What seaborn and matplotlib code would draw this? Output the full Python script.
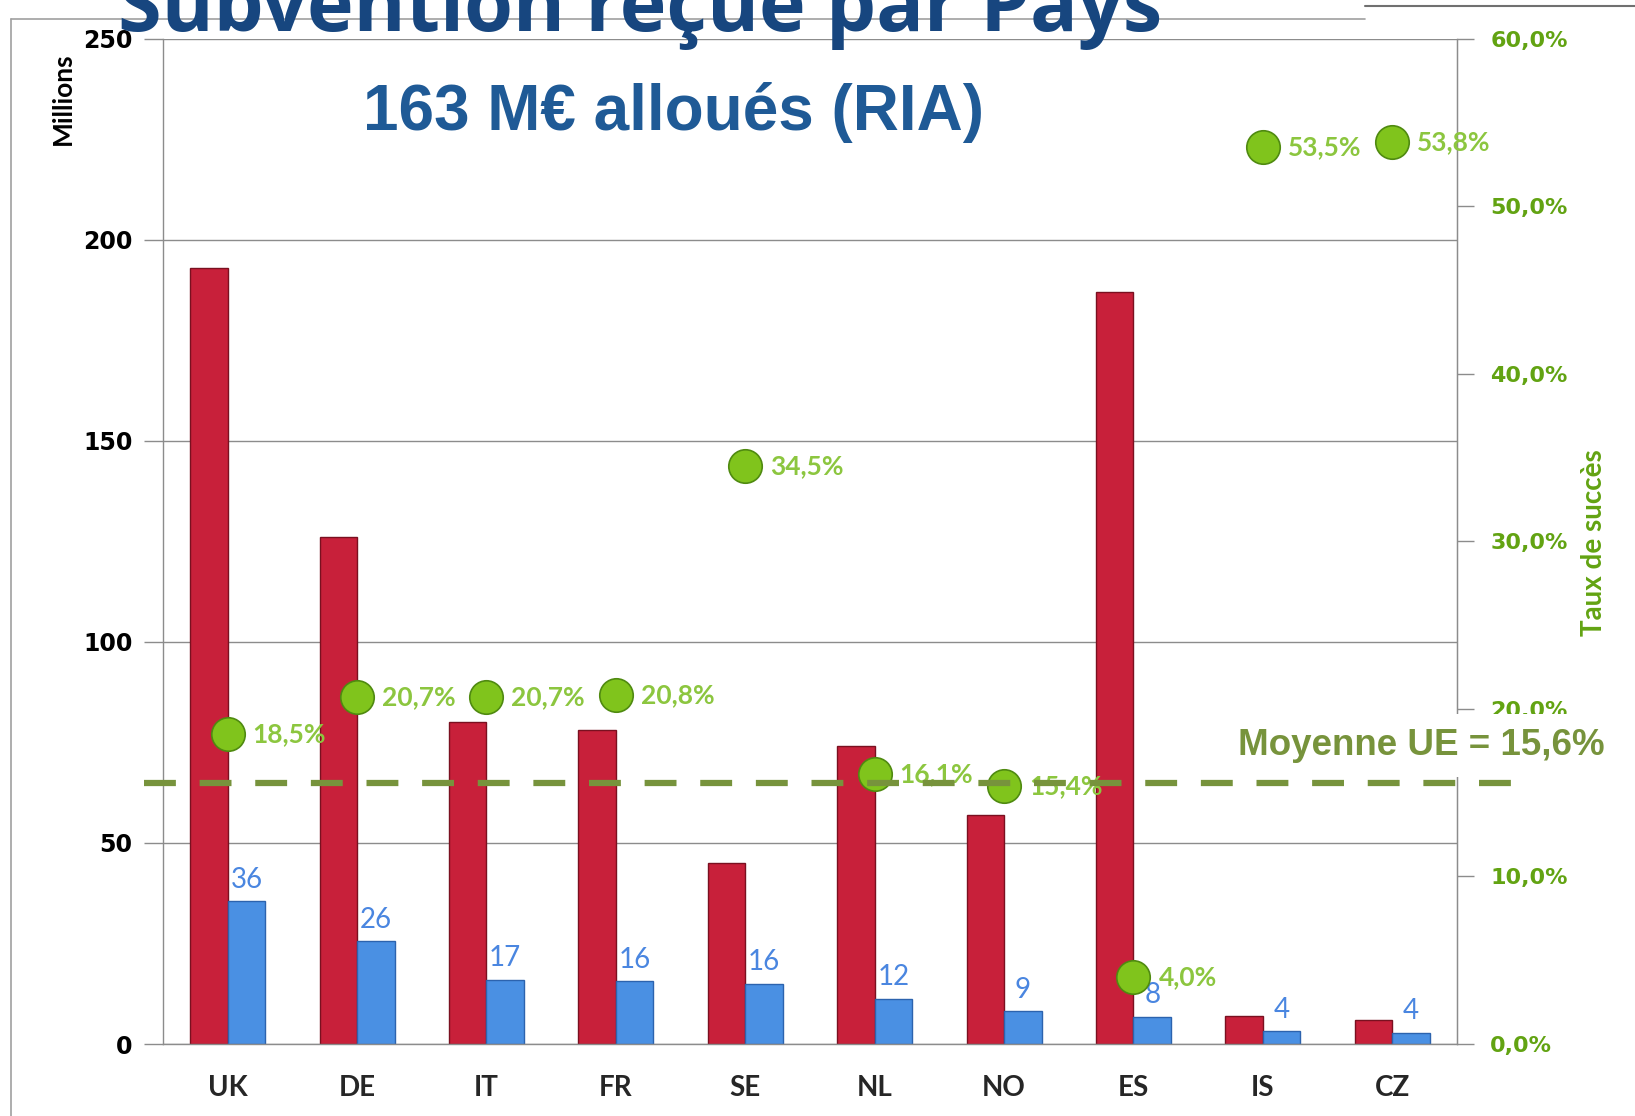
import numpy as np
import pandas as pd
import matplotlib.pyplot as plt
import matplotlib.ticker as mticker
import matplotlib.transforms as mtransforms
from matplotlib.lines import Line2D
import seaborn as sns

# Data
countries = ['UK', 'DE', 'IT', 'FR', 'SE', 'NL', 'NO', 'ES', 'IS', 'CZ']
demande = [193, 126, 80, 78, 45, 74, 57, 187, 7, 6]          # red bars (M€)
subvention = [35.5, 25.5, 16, 15.6, 15, 11.3, 8.2, 6.8, 3.2, 2.8]  # blue bars (M€)
subvention_labels = ['36', '26', '17', '16', '16', '12', '9', '8', '4', '4']
taux = [18.5, 20.7, 20.7, 20.8, 34.5, 16.1, 15.4, 4.0, 53.5, 53.8]  # success rate (%)
taux_labels = ['18,5%', '20,7%', '20,7%', '20,8%', '34,5%', '16,1%', '15,4%', '4,0%', '53,5%', '53,8%']
moyenne_ue = 15.6

RED = '#C8203A'
BLUE = '#4A90E3'
GREEN_DOT = '#80C41C'
GREEN_TXT = '#8CC63F'
GREEN_AX = '#62A312'
OLIVE = '#77933C'
GRID = '#8C8C8C'

sns.set_style('white')
plt.rcParams['font.family'] = ['DejaVu Sans']

df = pd.DataFrame({
    'Pays': countries * 2,
    'Montant': demande + subvention,
    'Serie': ['Demande'] * len(countries) + ['Subvention'] * len(countries),
})

fig = plt.figure(figsize=(16.35, 11.16), dpi=100)
ax = fig.add_axes([0.0997, 0.0645, 0.7914, 0.901])

sns.barplot(data=df, x='Pays', y='Montant', hue='Serie', palette=[RED, BLUE],
            width=0.58, dodge=True, legend=False, ax=ax, saturation=1,
            edgecolor='#7A1020', linewidth=1.0)
for patch in ax.containers[1]:
    patch.set_edgecolor('#2C63AE')

ax.bar_label(ax.containers[1], labels=subvention_labels, padding=6,
             color='#4A86E0', fontsize=20, family='Lato')

ax.set_xlim(-0.5, 9.5)
ax.set_ylim(0, 250)
ax.set_yticks([0, 50, 100, 150, 200, 250])
ax.yaxis.grid(True, color=GRID, linewidth=1)
ax.set_axisbelow(True)
ax.set_xlabel('')
ax.set_ylabel('')
ax.tick_params(axis='y', length=14, width=1, color=GRID, pad=8,
               labelsize=17, labelcolor='black')
for t in ax.get_yticklabels():
    t.set_fontweight('bold')
ax.set_xticks(range(len(countries)))
ax.set_xticklabels(countries, family='Lato', fontweight='bold', fontsize=20)
ax.tick_params(axis='x', length=0, pad=22)
ax.set_xticks(np.arange(-0.5, 10, 1), minor=True)
ax.tick_params(axis='x', which='minor', length=10, width=1, color=GRID)
for side in ['left', 'bottom', 'right']:
    ax.spines[side].set_color(GRID)
    ax.spines[side].set_linewidth(1)
ax.spines['top'].set_visible(False)

# Success rate on secondary axis
ax2 = ax.twinx()
sns.scatterplot(x=np.arange(len(countries)), y=taux, ax=ax2, s=580,
                color=GREEN_DOT, edgecolor='#4F8A10', linewidth=1.2, zorder=6)
for i, (v, lab) in enumerate(zip(taux, taux_labels)):
    ax2.annotate(lab, (i, v), xytext=(18, 0), textcoords='offset points',
                 ha='left', va='center', color=GREEN_TXT, fontsize=19,
                 family='Lato', fontweight='bold', zorder=7)
ax2.set_ylim(0, 60)
ax2.set_yticks(np.arange(0, 61, 10))
ax2.yaxis.set_major_formatter(mticker.FuncFormatter(lambda v, p: f'{v:.1f}%'.replace('.', ',')))
ax2.tick_params(axis='y', length=12, width=1, color=GRID, pad=12,
                labelsize=16, labelcolor=GREEN_AX)
for t in ax2.get_yticklabels():
    t.set_fontweight('bold')
ax2.set_ylabel('')
ax2.spines['right'].set_color(GRID)
for side in ['left', 'top', 'bottom']:
    ax2.spines[side].set_visible(False)

# EU average dashed line
trans = mtransforms.blended_transform_factory(ax2.transAxes, ax2.transData)
ax2.plot([-0.0147, 1.05], [moyenne_ue, moyenne_ue], transform=trans, clip_on=False,
         color=OLIVE, linewidth=4.5, dashes=(5.1, 3.8), zorder=8)
ax2.text(0.757, 0.332, 'Moyenne UE = 15,6%', transform=fig.transFigure,
         ha='left', va='center', fontsize=26.5, fontweight='bold', color=OLIVE,
         family='Liberation Sans', zorder=5,
         bbox=dict(facecolor='white', edgecolor='none', pad=10))

# Axis titles
fig.text(0.0385, 0.912, 'Millions', rotation=90, ha='center', va='center',
         fontsize=19, fontweight='bold', family='Lato', color='black')
fig.text(0.975, 0.514, 'Taux de succès', rotation=90, ha='center', va='center',
         fontsize=20, fontweight='bold', family='Lato', color=GREEN_AX)

# Frame lines
fig.add_artist(Line2D([0.0065, 0.0065], [0.0, 0.983], color='#A0A0A0', linewidth=1.2))
fig.add_artist(Line2D([0.0065, 0.835], [0.983, 0.983], color='#A0A0A0', linewidth=1.2))
fig.add_artist(Line2D([0.835, 1.0], [0.995, 0.995], color='#707070', linewidth=1.5))

# Titles
fig.text(0.072, 0.972, 'Subvention reçue par Pays', ha='left', va='baseline',
         fontsize=57, fontweight='bold', family='Open Sans', color='#17467F')
fig.text(0.412, 0.899, '163 M€ alloués (RIA)', ha='center', va='center',
         fontsize=46, fontweight='bold', family='Liberation Sans', color='#1F5A96')

plt.savefig('out.png', dpi=100)
plt.close()
